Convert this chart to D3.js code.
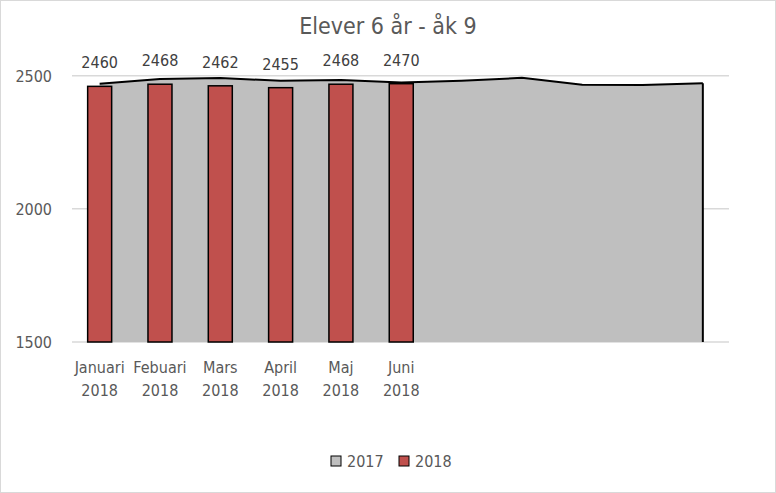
<!DOCTYPE html>
<html><head><meta charset="utf-8">
<script src="https://cdn.jsdelivr.net/npm/d3@7"></script>
<style>body{margin:0;background:#fff}svg{font-family:"Liberation Sans Narrow","DejaVu Sans Condensed",sans-serif}</style>
</head><body>
<svg id="chart"></svg>
<script>
const categories = ["Januari 2018","Febuari 2018","Mars 2018","April 2018","Maj 2018","Juni 2018","","","","",""];
const values2017 = [2470,2488,2491,2481,2484,2474,2481,2492,2466,2465,2472];
const values2018 = [2460,2468,2462,2455,2468,2470];
const yTicks = [1500,2000,2500];

const W = 776, H = 493;
const svg = d3.select("#chart").attr("width", W).attr("height", H);

// frame
svg.append("rect").attr("x",0.5).attr("y",0.5).attr("width",W-1).attr("height",H-1)
   .style("fill","#fff").style("stroke","#d9d9d9");

const x = d3.scaleBand().domain(d3.range(categories.length)).range([69.5, 733]);
const y = d3.scaleLinear().domain([1500,2500]).range([342,75.7]);
const cx = i => x(i) + x.bandwidth()/2;

// Title
svg.append("text").attr("x",W/2).attr("y",34).attr("text-anchor","middle")
   .style("font-size","23px").style("fill","#595959").text("Elever 6 år - åk 9");

// gridlines
svg.selectAll(".grid").data(yTicks).join("line")
   .attr("x1",72).attr("x2",729).attr("y1",d=>y(d)).attr("y2",d=>y(d))
   .style("stroke","#d9d9d9").style("stroke-width",1.5);

// y axis labels
svg.selectAll(".ylab").data(yTicks).join("text")
   .attr("x",52).attr("y",d=>y(d)+6).attr("text-anchor","end")
   .style("font-size","16px").style("fill","#595959").text(d=>d);

// area 2017
const area = d3.area().x((d,i)=>cx(i)).y0(y(1500)).y1(d=>y(d));
svg.append("path").datum(values2017).attr("d",area).style("fill","#bfbfbf");
const line = d3.line().x((d,i)=>cx(i)).y(d=>y(d));
svg.append("path").datum(values2017).attr("d",line)
   .style("fill","none").style("stroke","#000").style("stroke-width",2);
svg.append("line").attr("x1",cx(10)).attr("x2",cx(10)).attr("y1",y(values2017[10])).attr("y2",y(1500))
   .style("stroke","#000").style("stroke-width",2);

// bars 2018
const bw = 24;
svg.selectAll(".bar").data(values2018).join("rect")
   .attr("x",(d,i)=>cx(i)-bw/2).attr("width",bw)
   .attr("y",d=>y(d)).attr("height",d=>y(1500)-y(d))
   .style("fill","#c0504d").style("stroke","#000").style("stroke-width",1.5);

// bar labels
svg.selectAll(".blab").data(values2018).join("text")
   .attr("x",(d,i)=>cx(i)).attr("y",d=>y(d)-18).attr("text-anchor","middle")
   .style("font-size","16px").style("fill","#404040").text(d=>d);

// category labels
categories.forEach((c,i)=>{
  if(!c) return;
  const parts = c.split(" ");
  const t = svg.append("text").attr("x",cx(i)).attr("y",373).attr("text-anchor","middle")
     .style("font-size","16px").style("fill","#595959");
  parts.forEach((p,j)=>t.append("tspan").attr("x",cx(i)).attr("dy",j?23:0).text(p));
});

// legend
const legend = [["2017","#bfbfbf"],["2018","#c0504d"]];
legend.forEach(([name,col],i)=>{
  const lx = 331 + i*68;
  svg.append("rect").attr("x",lx).attr("y",456).attr("width",10).attr("height",10)
     .style("fill",col).style("stroke","#000");
  svg.append("text").attr("x",lx+16).attr("y",467).style("font-size","16px")
     .style("fill","#595959").text(name);
});
</script>
</body></html>
